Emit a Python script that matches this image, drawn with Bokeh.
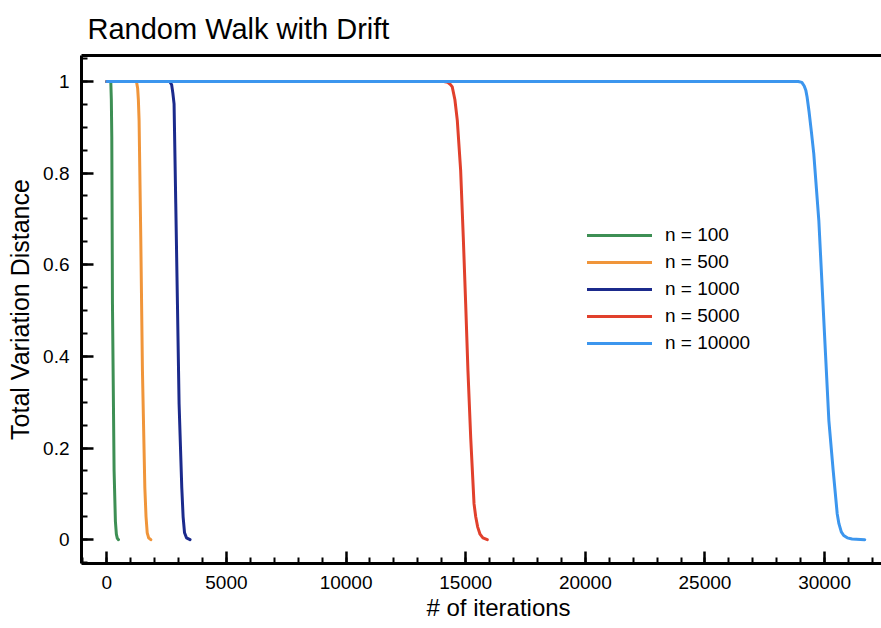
from bokeh.plotting import figure
from bokeh.models import LinearAxis, FixedTicker, Legend, LegendItem, Range1d, Title
from bokeh.embed import file_html
from bokeh.resources import INLINE

# ---- data ----
series_names = ["n = 100", "n = 500", "n = 1000", "n = 5000", "n = 10000"]
series_colors = ["#3d8f54", "#f0953a", "#1b2a8c", "#e1402c", "#3c96ee"]

x_n100 = [0, 167, 190, 209, 237, 305, 360, 400, 440, 489]
y_n100 = [1, 1, 0.96, 0.878, 0.515, 0.151, 0.04, 0.012, 0.003, 0]

x_n500 = [0, 1240, 1290, 1320, 1350, 1420, 1490, 1590, 1640, 1690, 1750, 1840]
y_n500 = [1, 1, 0.985, 0.96, 0.915, 0.66, 0.369, 0.114, 0.05, 0.015, 0.004, 0]

x_n1000 = [0, 2632, 2710, 2760, 2812, 2883, 2953, 3022, 3134, 3190, 3250, 3330, 3480]
y_n1000 = [1, 1, 0.993, 0.975, 0.951, 0.733, 0.515, 0.296, 0.114, 0.05, 0.015, 0.004, 0]

x_n5000 = [0, 14090, 14250, 14350, 14440, 14550, 14650, 14790, 14900, 15000,
           15095, 15210, 15350, 15420, 15500, 15600, 15720, 15905]
y_n5000 = [1, 1, 0.998, 0.994, 0.988, 0.96, 0.915, 0.806, 0.660, 0.515,
           0.369, 0.223, 0.078, 0.05, 0.028, 0.012, 0.004, 0]

x_n10000 = [0, 28900, 29050, 29150, 29220, 29270, 29350, 29450, 29550, 29760,
            29900, 30040, 30180, 30360, 30530, 30600, 30700, 30800, 30950,
            31150, 31680]
y_n10000 = [1, 1, 0.998, 0.99, 0.98, 0.966, 0.935, 0.89, 0.842, 0.697,
            0.551, 0.405, 0.260, 0.151, 0.056, 0.035, 0.017, 0.009, 0.004,
            0.0015, 0]

x_ticks = [0, 5000, 10000, 15000, 20000, 25000, 30000]
x_tick_labels = ["0", "5000", "10000", "15000", "20000", "25000", "30000"]
y_ticks = [0, 0.2, 0.4, 0.6, 0.8, 1]
y_tick_labels = ["0", "0.2", "0.4", "0.6", "0.8", "1"]

FONT = "Liberation Sans"

p = figure(width=881, height=628, output_backend="svg", toolbar_location=None,
           x_range=Range1d(-1057, 32380), y_range=Range1d(-0.052, 1.0566),
           title="Random Walk with Drift",
           min_border_left=81, min_border_right=0, min_border_top=55,
           min_border_bottom=65)

p.title.text_font = FONT
p.title.text_font_size = "29px"
p.title.text_font_style = "normal"
p.title.text_color = "black"
p.title.align = "left"
p.title.vertical_align = "top"
p.title.offset = 6
p.title.standoff = 18

p.outline_line_color = None
p.grid.visible = False
p.background_fill_color = "white"
p.border_fill_color = "white"

xs = [x_n100, x_n500, x_n1000, x_n5000, x_n10000]
ys = [y_n100, y_n500, y_n1000, y_n5000, y_n10000]
renderers = []
for xv, yv, c in zip(xs, ys, series_colors):
    r = p.line(xv, yv, line_color=c, line_width=3, line_join="round", line_cap="round")
    renderers.append(r)

# axes styling
xa = p.xaxis[0]
ya = p.yaxis[0]
xa.ticker = FixedTicker(ticks=x_ticks, minor_ticks=list(range(-1000, 32001, 1000)))
ya.ticker = FixedTicker(ticks=y_ticks, minor_ticks=[i * 0.05 for i in range(-1, 22)])
xa.major_label_overrides = {t: l for t, l in zip(x_ticks, x_tick_labels)}
ya.major_label_overrides = {t: l for t, l in zip(y_ticks, y_tick_labels)}
ya.axis_label = "Total Variation Distance"
for ax in (xa, ya):
    ax.axis_line_width = 3
    ax.axis_line_color = "black"
    ax.major_tick_line_width = 2.5
    ax.minor_tick_line_width = 2
    ax.major_tick_line_color = "black"
    ax.minor_tick_line_color = "black"
    ax.major_tick_in = 12
    ax.major_tick_out = 0
    ax.minor_tick_in = 6
    ax.minor_tick_out = 0
    ax.major_label_text_font = FONT
    ax.major_label_text_font_size = "19px"
    ax.major_label_text_color = "black"
    ax.axis_label_text_font = FONT
    ax.axis_label_text_font_size = "25px"
    ax.axis_label_text_font_style = "normal"
    ax.axis_label_text_color = "black"
    ax.major_label_standoff = 12
    ax.axis_label_standoff = 6

top_axis = LinearAxis(ticker=FixedTicker(ticks=[]), axis_line_width=3,
                      axis_line_color="black", major_tick_in=0, major_tick_out=0,
                      minor_tick_in=0, minor_tick_out=0,
                      major_label_standoff=0, axis_label_standoff=0,
                      major_label_text_font_size="0px")
p.add_layout(top_axis, "above")

# x-axis title placed where the reference has it
x_title = Title(text="# of iterations", align="left", offset=345,
                text_font=FONT, text_font_size="24px", text_font_style="normal",
                text_color="black", standoff=0)
p.add_layout(x_title, "below")

legend = Legend(items=[LegendItem(label=n, renderers=[r]) for n, r in zip(series_names, renderers)],
                location=(506, 209), padding=0, margin=0, spacing=5,
                glyph_width=65, glyph_height=20, label_height=20, label_standoff=13,
                label_text_font=FONT, label_text_font_size="19px",
                label_text_color="black",
                border_line_color=None, background_fill_alpha=0)
p.add_layout(legend, "center")

open("out.html", "w").write(file_html(p, INLINE))
